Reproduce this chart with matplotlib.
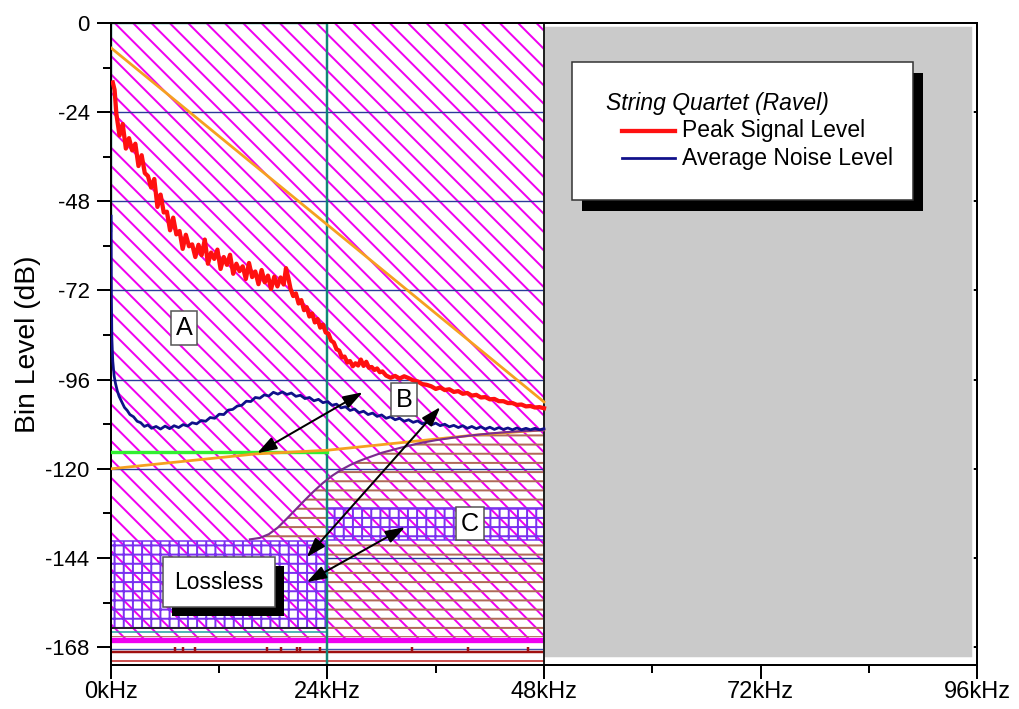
import matplotlib
matplotlib.use("Agg")
import matplotlib.pyplot as plt
from matplotlib.patches import Rectangle, Polygon
from matplotlib.ticker import MultipleLocator

plt.rcParams["font.family"] = ["Liberation Sans", "DejaVu Sans"]
plt.rcParams["hatch.linewidth"] = 1.3
plt.rcParams["axes.unicode_minus"] = False

# peak signal level, kHz / dB
peak_khz = [0.2, 0.4, 0.6, 0.95, 1.3, 1.65, 2.0, 2.35, 2.7, 3.05,
            3.4, 3.75, 4.1, 4.45, 4.8, 5.15, 5.5, 5.85, 6.2, 6.55,
            6.9, 7.25, 7.6, 7.95, 8.3, 8.65, 9.0, 9.35, 9.7, 10.05,
            10.4, 10.75, 11.1, 11.45, 11.8, 12.15, 12.5, 12.85, 13.2, 13.55,
            13.9, 14.25, 14.6, 14.95, 15.3, 15.65, 16.0, 16.35, 16.7, 17.05,
            17.4, 17.75, 18.1, 18.45, 18.8, 19.15, 19.4, 19.65, 19.9, 20.2,
            20.5, 20.8, 21.1, 21.4, 21.7, 22.0, 22.3, 22.6, 22.9, 23.2,
            23.5, 23.8, 24.1, 24.4, 24.7, 25.0, 25.3, 25.6, 25.9, 26.2,
            26.5, 26.8, 27.1, 27.4, 27.7, 28.0, 28.3, 28.6, 28.9, 29.2,
            29.5, 29.8, 30.1, 30.5, 31.0, 31.5, 32.0, 32.5, 33.0, 33.5,
            34.0, 34.5, 35.0, 35.5, 36.0, 36.5, 37.0, 37.5, 38.0, 38.5,
            39.0, 39.5, 40.0, 40.5, 41.0, 41.5, 42.0, 42.5, 43.0, 43.5,
            44.0, 44.5, 45.0, 45.5, 46.0, 46.5, 47.0, 47.5, 48.0]
peak_db = [-16, -18, -24.5, -30.3, -27.2, -33.8, -31.0, -34.3, -32.5, -38.5,
           -35.6, -40.4, -41.2, -44.3, -42.0, -49.5, -46.2, -51.0, -50.8, -55.8,
           -52.4, -56.9, -56.0, -60.8, -57.0, -60.1, -59.6, -63.0, -59.7, -62.5,
           -58.3, -64.8, -61.8, -63.5, -61.0, -66.2, -63.0, -65.1, -62.4, -67.5,
           -64.8, -66.8, -65.5, -68.9, -64.6, -68.4, -66.9, -70.3, -66.5, -69.8,
           -68.0, -71.6, -68.3, -70.9, -68.5, -70.4, -66.0, -68.5, -71.5, -73.5,
           -72.8, -75.5, -74.6, -77.3, -76.5, -79.0, -78.2, -80.6, -79.7, -82.0,
           -81.2, -83.3, -83.6, -85.5, -86.0, -87.8, -88.2, -90.0, -89.8, -91.4,
           -91.0, -92.4, -91.6, -92.2, -90.6, -92.3, -91.2, -92.8, -92.6, -93.4,
           -93.0, -94.0, -93.8, -94.9, -95.5, -95.0, -95.7, -95.1, -95.6, -96.2,
           -96.5, -97.2, -97.4, -97.8, -98.5, -98.1, -98.8, -98.6, -99.3, -99.1,
           -99.8, -99.6, -100.3, -100.1, -100.8, -100.7, -101.3, -101.2, -101.8, -101.8,
           -102.3, -102.3, -102.8, -102.7, -103.2, -103.1, -103.5, -103.4, -103.7]

# average noise level, kHz / dB
noise_khz = [0.02, 0.05, 0.1, 0.2, 0.35, 0.5, 0.7, 0.9, 1.2, 1.5,
             1.8, 2.1, 2.5, 2.9, 3.3, 3.7, 4.1, 4.5, 5.0, 5.5,
             6.0, 6.5, 7.0, 7.5, 8.0, 8.5, 9.0, 9.5, 10.0, 10.5,
             11.0, 11.5, 12.0, 12.5, 13.0, 13.5, 14.0, 14.5, 15.0, 15.5,
             16.0, 16.5, 17.0, 17.5, 18.0, 18.5, 19.0, 19.5, 20.0, 20.5,
             21.0, 21.5, 22.0, 22.5, 23.0, 23.5, 24.0, 24.5, 25.0, 25.5,
             26.0, 26.5, 27.0, 27.5, 28.0, 28.5, 29.0, 29.5, 30.0, 30.5,
             31.0, 31.5, 32.0, 32.5, 33.0, 33.5, 34.0, 34.5, 35.0, 35.5,
             36.0, 36.5, 37.0, 37.5, 38.0, 38.5, 39.0, 39.5, 40.0, 40.5,
             41.0, 41.5, 42.0, 42.5, 43.0, 43.5, 44.0, 44.5, 45.0, 45.5,
             46.0, 46.5, 47.0, 47.5, 48.0]
noise_db = [-52, -74, -85, -91, -95, -97, -99, -100.5, -102, -103.5,
            -104.3, -105.4, -106, -107.2, -107.6, -108.6, -108.2, -109.1, -108.6, -109.3,
            -108.5, -109.2, -108.4, -108.9, -108.1, -108.5, -107.6, -107.9, -107.0, -107.2,
            -106.2, -106.4, -105.3, -105.4, -104.2, -104.0, -103.1, -102.9, -101.8, -101.9,
            -100.8, -101.0, -100.1, -100.4, -99.4, -99.9, -99.3, -100.0, -99.6, -100.5,
            -100.2, -101.1, -100.8, -101.7, -101.3, -102.2, -101.9, -102.9, -102.6, -103.6,
            -103.3, -104.3, -103.9, -104.9, -104.5, -105.4, -105.0, -105.9, -105.5, -106.4,
            -106.0, -106.8, -106.4, -107.2, -106.8, -107.5, -107.1, -107.9, -107.4, -108.2,
            -107.7, -108.4, -108.0, -108.7, -108.3, -108.9, -108.4, -109.1, -108.6, -109.2,
            -108.7, -109.3, -108.8, -109.4, -108.9, -109.4, -109.0, -109.5, -109.0, -109.5,
            -109.1, -109.5, -109.1, -109.5, -109.2]

# masking curve (purple) bounding the coded region
mask_khz = [15.4, 16.5, 17.5, 18.5, 19.5, 20.5, 21.5, 22.5, 23.5, 24.5,
            25.5, 26.5, 27.5, 28.5, 30, 32, 34, 36, 38, 40, 42, 44, 46, 48]
mask_db = [-139.0, -138.6, -137.6, -135.8, -133.4, -130.9, -128.4, -126.0, -123.8, -121.9,
           -120.3, -119.0, -117.9, -117.0, -115.7, -114.4, -113.2, -112.3, -111.6, -111.0,
           -110.5, -110.1, -109.8, -109.6]

# straight reference slopes
upper_slope_khz = [0, 48]
upper_slope_db = [-6.7, -102]
lower_slope_khz = [0, 16, 24, 32, 40, 48]
lower_slope_db = [-120, -116, -115, -113, -111, -109.5]
green_khz = [0, 24]
green_db = [-115.4, -115.4]

# quantisation bands (kHz start, kHz end, dB low, dB high)
lossless_band = (0, 24, -162.9, -139.4)
c_band = (24, 48, -139.2, -130.6)

# bottom traces
floor_db = -169.3
floor_spike_khz = [7.1, 8.0, 9.3, 17.3, 18.9, 20.6, 21.0, 23.2, 33.4, 39.6, 46.2]

grid_db = [-24, -48, -72, -96, -120, -144]

MAGENTA = "#f000f0"
BROWN = "#b06a58"
XHATCH = "#7a30f0"
DIAG = "\\\\"

fig = plt.figure(figsize=(1019 / 110, 709 / 110), dpi=110)
ax = fig.add_axes([0.1089, 0.0621, 0.8499, 0.9055])
ax.set_xlim(0, 96)
ax.set_ylim(-172.8, 0)

# diagonal hatch over the whole 0-48 kHz span
ax.add_patch(Rectangle((0, -166.0), 48, 166.0, facecolor="white",
                       edgecolor=MAGENTA, hatch=DIAG, linewidth=0, zorder=1))

# horizontal hatch under the masking curve
poly = [(x, y) for x, y in zip(mask_khz, mask_db)]
poly += [(48, -165.3), (0, -165.3), (0, -139.4)]
ax.add_patch(Polygon(poly, closed=True, facecolor="none", edgecolor=BROWN,
                     hatch="--", linewidth=0, zorder=1.2))

ax.hlines(grid_db, 0, 48, colors="#2a3a9a", linewidth=0.9, zorder=1.3)

for x0, x1, y0, y1 in (lossless_band, c_band):
    ax.add_patch(Rectangle((x0, y0), x1 - x0, y1 - y0, facecolor="white",
                           edgecolor="none", zorder=1.5))
    ax.add_patch(Rectangle((x0, y0), x1 - x0, y1 - y0, facecolor="none",
                           edgecolor=MAGENTA, hatch=DIAG, linewidth=0, zorder=1.6))
    ax.add_patch(Rectangle((x0, y0), x1 - x0, y1 - y0, facecolor="none",
                           edgecolor=XHATCH, hatch="++", linewidth=1.0, zorder=1.7))
ax.plot([0, 24], [lossless_band[2]] * 2, color="#202020", lw=1.2, zorder=1.8)
ax.plot([0, 24], [-163.9, -163.9], color="#20a0a0", lw=1.0, zorder=1.8)

# bottom traces
ax.plot([0, 48], [-166.0, -166.0], color=MAGENTA, lw=3.5, zorder=2)
ax.plot([0, 48], [-168.6, -168.6], color="#4050b0", lw=0.9, zorder=2)
ax.plot([0, 48], [floor_db, floor_db], color="#a01010", lw=1.6, zorder=2)
ax.vlines(floor_spike_khz, floor_db, floor_db + 1.4, colors="#a01010", lw=1.6, zorder=2)
ax.plot([0, 48], [-171.7, -171.7], color="#c02020", lw=1.0, zorder=2)

# unused upper half of the spectrum
ax.add_patch(Rectangle((48, -171.0), 47.55, 170.2, facecolor="#cacaca",
                       edgecolor="white", linewidth=1, zorder=2.2))

ax.plot([0, 0, 24, 24], [-56, 0, 0, -172.8], color="#108878", lw=1.6, zorder=2.3)
ax.plot([48, 48], [0, -172.8], color="#101010", lw=1.2, zorder=2.3)

ax.plot(upper_slope_khz, upper_slope_db, color="#f5a020", lw=1.8, zorder=3)
ax.plot(green_khz, green_db, color="#30f030", lw=2.2, zorder=3)
ax.plot(lower_slope_khz, lower_slope_db, color="#f5a020", lw=1.8, zorder=3.1)
ax.plot(mask_khz, mask_db, color="#7b2d8e", lw=1.4, zorder=3.2)
ax.plot(noise_khz, noise_db, color="#10108a", lw=1.8, zorder=3.3)
ax.plot(peak_khz, peak_db, color="#ff1010", lw=2.8, zorder=3.4)

# double-headed pointers
arrow_style = dict(arrowstyle="<|-|>,head_length=0.9,head_width=0.3",
                   color="black", lw=1.3, shrinkA=0, shrinkB=0, mutation_scale=12)
for start, end in [((27.9, -99.4), (16.2, -115.8)),
                   ((36.5, -103.4), (21.7, -143.8)),
                   ((32.6, -135.7), (21.7, -150.5))]:
    ax.annotate("", xy=end, xytext=start, arrowprops=arrow_style, zorder=4)

box = dict(boxstyle="square,pad=0.18", facecolor="white", edgecolor="#555555", lw=1)
ax.text(8.1, -82.1, "A", fontsize=16.5, ha="center", va="center", bbox=box, zorder=5)
ax.text(32.5, -101.4, "B", fontsize=16.5, ha="center", va="center", bbox=box, zorder=5)
ax.text(39.8, -134.8, "C", fontsize=16.5, ha="center", va="center", bbox=box, zorder=5)

# "Lossless" label with drop shadow
ax.add_patch(Rectangle((6.76, -159.6), 12.42, 13.4, facecolor="black", zorder=5))
ax.add_patch(Rectangle((5.76, -157.2), 12.42, 13.4, facecolor="white",
                       edgecolor="#555555", lw=1, zorder=5.1))
ax.text(11.97, -150.5, "Lossless", fontsize=15, ha="center", va="center", zorder=5.2)

# legend panel
T = ax.transAxes
ax.add_patch(Rectangle((0.5435, 0.7065), 0.394, 0.215, transform=T,
                       facecolor="black", zorder=6))
ax.add_patch(Rectangle((0.532, 0.724), 0.394, 0.215, transform=T,
                       facecolor="white", edgecolor="#333333", lw=1, zorder=6.1))
ax.text(0.572, 0.875, "String Quartet (Ravel)", transform=T, fontsize=15,
        style="italic", ha="left", va="center", zorder=6.2)
ax.plot([0.590, 0.651], [0.832, 0.832], transform=T, color="#ff1010", lw=2.8, zorder=6.2)
ax.plot([0.590, 0.651], [0.789, 0.789], transform=T, color="#10108a", lw=1.8, zorder=6.2)
ax.text(0.659, 0.832, "Peak Signal Level", transform=T, fontsize=15,
        ha="left", va="center", zorder=6.2)
ax.text(0.659, 0.789, "Average Noise Level", transform=T, fontsize=15,
        ha="left", va="center", zorder=6.2)

# axes and ticks
for s in ax.spines.values():
    s.set_linewidth(1.3)
    s.set_zorder(2.4)
ax.set_xticks([0, 24, 48, 72, 96])
ax.set_xticklabels(["0kHz", "24kHz", "48kHz", "72kHz", "96kHz"])
ax.xaxis.set_minor_locator(MultipleLocator(12))
ax.set_yticks([0, -24, -48, -72, -96, -120, -144, -168])
ax.yaxis.set_minor_locator(MultipleLocator(12))
ax.tick_params(which="major", direction="out", length=9, width=1.3, labelsize=14.5)
ax.tick_params(axis="x", which="major", labelsize=15.5, pad=1.5)
ax.tick_params(axis="y", which="major", pad=5)
ax.tick_params(which="minor", direction="out", length=5, width=1.3)

right = ax.secondary_yaxis("right")
right.set_yticks([0, -24, -48, -72, -96, -120, -144, -168])
right.set_yticklabels([])
right.tick_params(direction="in", length=9, width=1.3)
right.spines["right"].set_linewidth(1.3)

ax.set_ylabel("Bin Level (dB)", fontsize=18.5, labelpad=3)

fig.savefig("out.png", dpi=110)
